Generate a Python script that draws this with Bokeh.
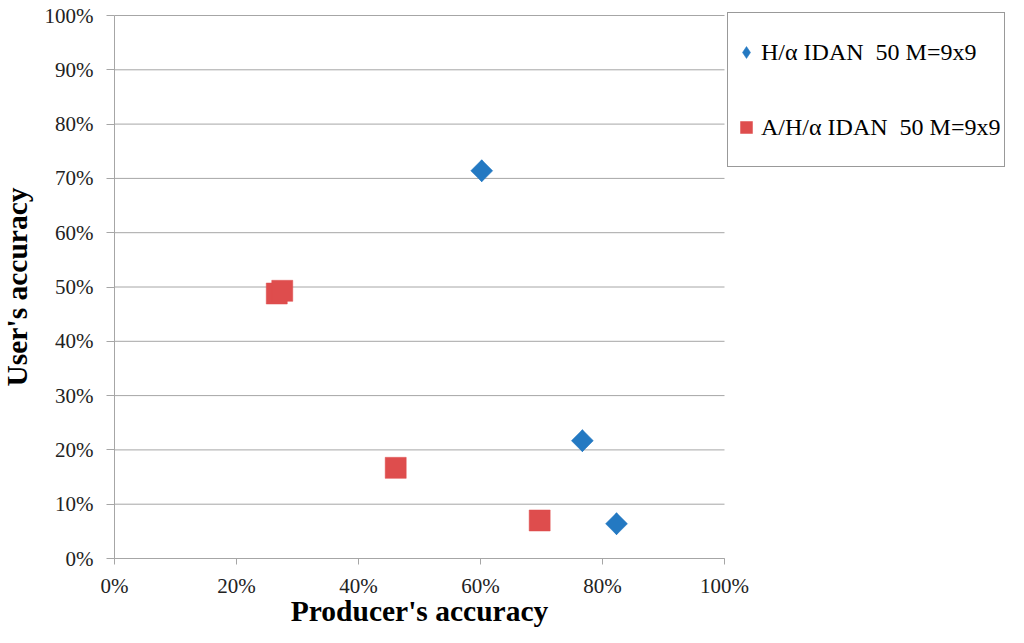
import math
from bokeh.plotting import figure
from bokeh.models import (Legend, LegendItem, FixedTicker, NumeralTickFormatter,
                          Range1d, Label)
from bokeh.embed import file_html
from bokeh.resources import INLINE

# Data (fractions)
h_alpha_x = [0.602, 0.767, 0.823]
h_alpha_y = [0.714, 0.217, 0.064]
a_h_alpha_x = [0.266, 0.275, 0.461, 0.697]
a_h_alpha_y = [0.488, 0.493, 0.167, 0.070]
series_names = ["H/\u03b1 IDAN  50 M=9x9", "A/H/\u03b1 IDAN  50 M=9x9"]
x_ticks = [0, 0.2, 0.4, 0.6, 0.8, 1.0]
y_ticks = [0, 0.1, 0.2, 0.3, 0.4, 0.5, 0.6, 0.7, 0.8, 0.9, 1.0]
x_title = "Producer's accuracy"
y_title = "User's accuracy"

FONT = "Liberation Serif"
GRID = "#A6A6A6"
BLUE = "#2479C2"
RED = "#DE4D4D"

# Layout: the frame covers the whole canvas; the 0..100% box sits inside it.
W, H = 1008, 627
LEFT, TOP, BOTTOM = 114, 15, 69
PW = 610   # pixels for 0..100% on x
PH = H - TOP - BOTTOM  # pixels for 0..100% on y

x_lo, x_hi = x_ticks[0], x_ticks[-1]
y_lo, y_hi = y_ticks[0], y_ticks[-1]
x_range = Range1d(x_lo - LEFT / PW, x_lo + (W - LEFT) / PW)
y_range = Range1d(y_lo - BOTTOM / PH, y_hi + TOP / PH)

p = figure(width=W, height=H, output_backend="svg", toolbar_location=None,
           x_range=x_range, y_range=y_range, min_border=0)
p.outline_line_color = None
p.background_fill_color = "white"
p.border_fill_color = "white"
p.xgrid.visible = False
p.ygrid.visible = False

# horizontal grid lines over the 0..100% span
p.segment(x0=[x_lo] * len(y_ticks), x1=[x_hi] * len(y_ticks), y0=y_ticks, y1=y_ticks,
          line_color=GRID, line_width=1, level="underlay")

r_red = p.scatter(a_h_alpha_x, a_h_alpha_y, marker="square", size=21,
                  fill_color=RED, line_color=RED, line_width=0.5)
r_blue = p.scatter(h_alpha_x, h_alpha_y, marker="diamond", size=22,
                   fill_color=BLUE, line_color=BLUE, line_width=0.5)
p.scatter(h_alpha_x, h_alpha_y, marker="square", size=15.5, angle=math.pi / 4,
          fill_color=BLUE, line_color=BLUE, line_width=0.5)

for ax, ticks in ((p.xaxis, x_ticks), (p.yaxis, y_ticks)):
    ax.ticker = FixedTicker(ticks=ticks)
    ax.formatter = NumeralTickFormatter(format="0%")
    ax.fixed_location = 0
    ax.bounds = (ticks[0], ticks[-1])
    ax.axis_line_color = GRID
    ax.major_tick_line_color = GRID
    ax.minor_tick_line_color = None
    ax.major_tick_in = 0
    ax.major_label_text_font = FONT
    ax.major_label_text_font_size = "21px"
    ax.major_label_text_color = "#222222"
    ax.axis_label = None

p.xaxis.major_tick_out = 6
p.xaxis.major_label_standoff = 9
p.yaxis.major_tick_out = 8
p.yaxis.major_label_standoff = 13

p.add_layout(Label(x=(x_lo + x_hi) / 2, y=17, y_units="screen", text=x_title,
                   text_font=FONT, text_font_style="bold", text_font_size="29.5px",
                   text_align="center", text_baseline="alphabetic", text_color="black"))
p.add_layout(Label(x=16, x_units="screen", y=(y_lo + y_hi) / 2, text=y_title,
                   angle=math.pi / 2,
                   text_font=FONT, text_font_style="bold", text_font_size="29.5px",
                   text_align="center", text_baseline="middle", text_color="black"))

legend = Legend(items=[LegendItem(label=series_names[0], renderers=[r_blue]),
                       LegendItem(label=series_names[1], renderers=[r_red])],
                location=(LEFT + PW + 3, 460), margin=0, padding=3, spacing=3,
                glyph_width=30, glyph_height=72, label_height=72, label_width=240,
                label_standoff=0,
                label_text_font=FONT, label_text_font_size="24px", label_text_color="black",
                border_line_color="#333333", border_line_width=1.5,
                background_fill_color="white", background_fill_alpha=1.0)
p.add_layout(legend, "center")

open("out.html", "w").write(file_html(p, INLINE))
